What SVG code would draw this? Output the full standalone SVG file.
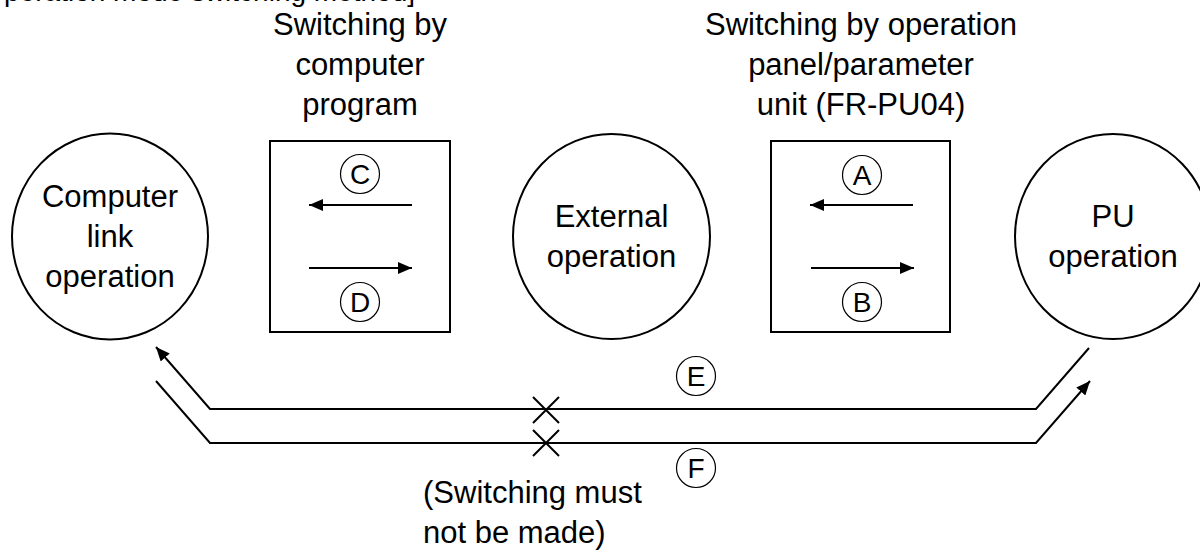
<svg xmlns="http://www.w3.org/2000/svg" width="1200" height="555" viewBox="0 0 1200 555">
<style>
text{font-family:"Liberation Sans",Arial,sans-serif;fill:#000}
.t{font-size:31px;text-anchor:middle}
.l{font-size:28px;text-anchor:middle}
.big{fill:#fff;stroke:#000;stroke-width:2}
.box{fill:#fff;stroke:#000;stroke-width:2}
.sm{fill:none;stroke:#000;stroke-width:1.2}
.ln{fill:none;stroke:#000;stroke-width:2}
</style>
<defs>
<marker id="ah" viewBox="0 0 14 12" refX="14" refY="6" markerWidth="14" markerHeight="12" markerUnits="userSpaceOnUse" orient="auto">
<path d="M0,0 L14,6 L0,12 Z" fill="#000"/>
</marker>
</defs>
<rect width="1200" height="555" fill="#fff"/>
<text x="415" y="0.5" style="font-size:28px;text-anchor:end">[Operation mode switching method]</text>
<g id="computer-link">
<ellipse class="big" cx="110" cy="236.5" rx="98" ry="103"/>
<text class="t" x="110" y="207">Computer</text>
<text class="t" x="110" y="247">link</text>
<text class="t" x="110" y="287">operation</text>
</g>
<g id="external">
<ellipse class="big" cx="611.5" cy="236.5" rx="98.5" ry="102.5"/>
<text class="t" x="611.5" y="227">External</text>
<text class="t" x="611.5" y="267">operation</text>
</g>
<g id="pu">
<ellipse class="big" cx="1113" cy="236.5" rx="98" ry="102.5"/>
<text class="t" x="1113" y="227">PU</text>
<text class="t" x="1113" y="267">operation</text>
</g>
<g id="label-program">
<text class="t" x="360" y="35">Switching by</text>
<text class="t" x="360" y="75">computer</text>
<text class="t" x="360" y="115">program</text>
</g>
<g id="label-panel">
<text class="t" x="861" y="35">Switching by operation</text>
<text class="t" x="861" y="75">panel/parameter</text>
<text class="t" x="861" y="115">unit (FR-PU04)</text>
</g>
<g id="box-cd">
<rect class="box" x="270" y="141" width="180" height="191"/>
<circle class="sm" cx="360" cy="174" r="19.5"/>
<text class="l" x="360" y="184">C</text>
<circle class="sm" cx="360" cy="302" r="19.5"/>
<text class="l" x="360" y="312">D</text>
</g>
<g id="box-ab">
<rect class="box" x="771" y="141" width="179" height="191"/>
<circle class="sm" cx="862" cy="175" r="19.5"/>
<text class="l" x="862" y="185">A</text>
<circle class="sm" cx="862" cy="302" r="19.5"/>
<text class="l" x="862" y="312">B</text>
</g>
<g id="connectors">
<line class="ln" x1="412" y1="205" x2="309" y2="205" marker-end="url(#ah)"/>
<line class="ln" x1="309" y1="268" x2="412" y2="268" marker-end="url(#ah)"/>
<line class="ln" x1="913" y1="205" x2="810" y2="205" marker-end="url(#ah)"/>
<line class="ln" x1="811" y1="268" x2="914" y2="268" marker-end="url(#ah)"/>
<polyline class="ln" points="1089,348 1036,409 210,409 156,347" marker-end="url(#ah)"/>
<polyline class="ln" points="156,381 210,443 1036,443 1090,381" marker-end="url(#ah)"/>
<path class="ln" d="M533,397 L559,423 M559,397 L533,423 M533,430 L559,456 M559,430 L533,456"/>
</g>
<g id="label-e">
<circle class="sm" cx="696" cy="376" r="19.5"/>
<text class="l" x="696" y="386">E</text>
</g>
<g id="label-f">
<circle class="sm" cx="696" cy="468" r="19.5"/>
<text class="l" x="696" y="478">F</text>
</g>
<g id="note">
<text x="423" y="503" style="font-size:31px">(Switching must</text>
<text x="423" y="543" style="font-size:31px">not be made)</text>
</g>
</svg>
